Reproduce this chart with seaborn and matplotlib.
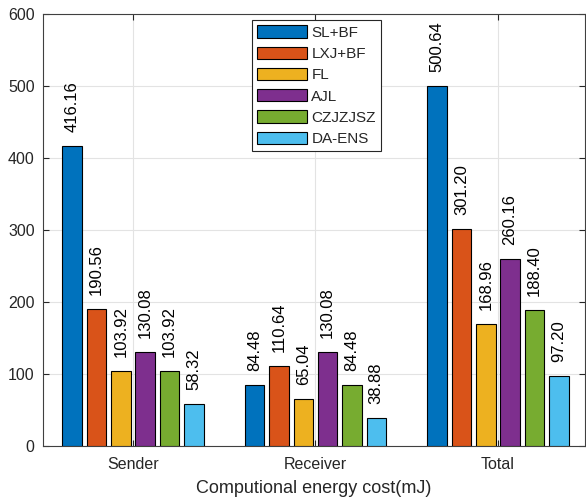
import matplotlib
matplotlib.use("Agg")
import matplotlib.pyplot as plt
import seaborn as sns
import pandas as pd

# Energy cost per role for each scheme (mJ)
groups = ["Sender", "Receiver", "Total"]
methods = ["SL+BF", "LXJ+BF", "FL", "AJL", "CZJZJSZ", "DA-ENS"]
sender = [416.16, 190.56, 103.92, 130.08, 103.92, 58.32]
receiver = [84.48, 110.64, 65.04, 130.08, 84.48, 38.88]
total = [500.64, 301.20, 168.96, 260.16, 188.40, 97.20]
colors = ["#0072BD", "#D95319", "#EDB120", "#7E2F8E", "#77AC30", "#4DBEEE"]

rows = []
for g, vals in zip(groups, [sender, receiver, total]):
    for m, v in zip(methods, vals):
        rows.append({"group": g, "method": m, "value": v})
df = pd.DataFrame(rows)

sns.set_theme(style="white")
plt.rcParams["font.family"] = ["Liberation Sans", "DejaVu Sans"]

fig = plt.figure(figsize=(5.86, 5.0), dpi=100)
ax = fig.add_axes([43 / 586, 54 / 500, 542 / 586, 432 / 500])

sns.barplot(data=df, x="group", y="value", hue="method", order=groups,
            hue_order=methods, palette=colors, saturation=1, width=0.8,
            gap=0.2, edgecolor="black", linewidth=0.8, ax=ax, zorder=3)

for cont in ax.containers:
    ax.bar_label(cont, fmt="%.2f", rotation=90, padding=10, fontsize=12,
                 color="black")

ax.set_ylim(0, 600)
ax.set_yticks(range(0, 601, 100))
ax.set_xlim(-0.493, 2.477)
ax.set_xlabel("Computional energy cost(mJ)", fontsize=13, color="#262626",
              labelpad=6)
ax.set_ylabel("")

ax.grid(True, color="#E3E3E3", linewidth=0.8, zorder=0)
ax.set_axisbelow(True)
for s in ax.spines.values():
    s.set_visible(True)
    s.set_color("#404040")
    s.set_linewidth(0.8)
ax.tick_params(axis="both", direction="in", length=4, width=0.8,
               colors="#262626", labelsize=11.5, top=True, right=True,
               left=True, bottom=True)
ax.tick_params(axis="x", pad=8)
ax.tick_params(axis="y", pad=6)

leg = ax.legend(loc="upper left", bbox_to_anchor=(0.385, 0.986),
                handlelength=3.25, handleheight=0.85, fontsize=11,
                frameon=True, fancybox=False, framealpha=1,
                edgecolor="#262626", borderaxespad=0, labelspacing=0.45,
                handletextpad=0.3, borderpad=0.35, title=None)
leg.get_frame().set_linewidth(0.8)

fig.savefig("out.png", dpi=100)
